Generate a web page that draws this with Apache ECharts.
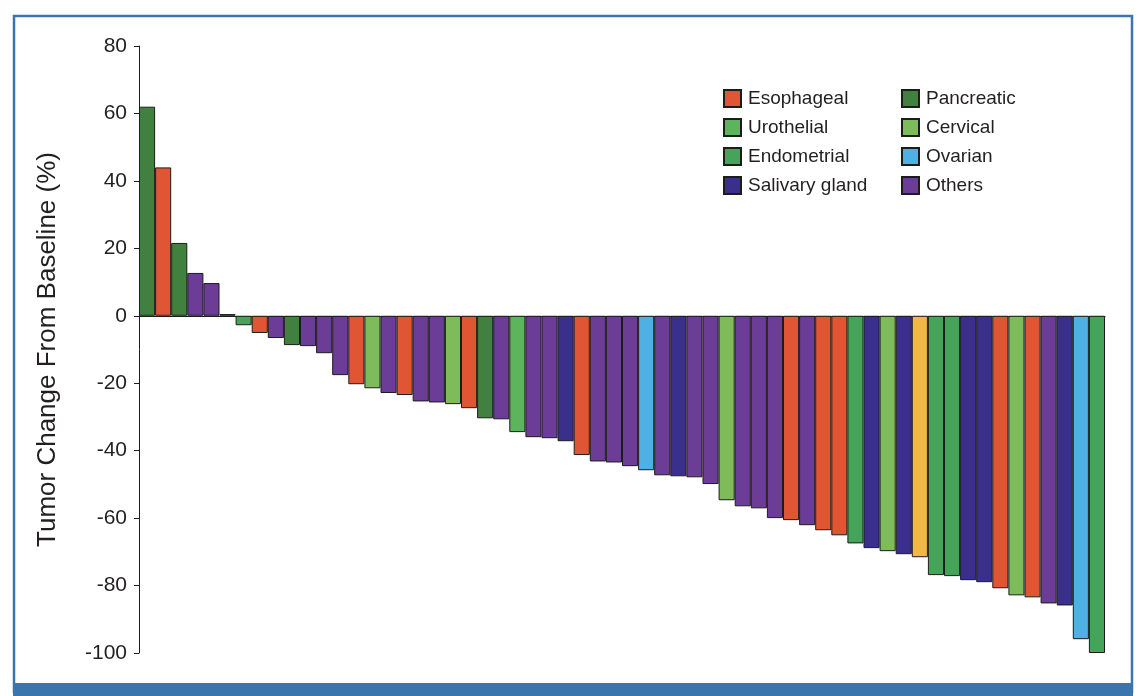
<!DOCTYPE html>
<html>
<head>
  <meta charset="utf-8">
  <title>Tumor change waterfall</title>
  <script src="https://cdn.jsdelivr.net/npm/echarts@6/dist/echarts.min.js"></script>
  <style>
    html, body { margin: 0; padding: 0; background: #fff; }
    #main { width: 1144px; height: 696px; }
  </style>
</head>
<body>
  <div id="main"></div>
  <script>
    // best % change per patient, sorted
    var changes = [62, 44, 21.6, 12.7, 9.7, 0.5, -2.8, -5.1, -6.6, -8.7,
      -9.0, -11.1, -17.6, -20.3, -21.5, -22.9, -23.5, -25.4, -25.7, -26.2,
      -27.4, -30.4, -30.7, -34.5, -36.0, -36.3, -37.2, -41.3, -43.2, -43.5,
      -44.6, -45.8, -47.3, -47.6, -47.9, -49.9, -54.7, -56.5, -57.1, -60.0,
      -60.6, -62.1, -63.6, -65.1, -67.5, -68.9, -69.8, -70.7, -71.6, -76.9,
      -77.2, -78.4, -79.0, -80.8, -82.9, -83.5, -85.3, -85.9, -95.9, -100];
    var tumorTypes = ['Pancreatic', 'Esophageal', 'Pancreatic', 'Others', 'Others', 'Others', 'Endometrial', 'Esophageal', 'Others', 'Pancreatic',
      'Others', 'Others', 'Others', 'Esophageal', 'Cervical', 'Others', 'Esophageal', 'Others', 'Others', 'Cervical',
      'Esophageal', 'Pancreatic', 'Others', 'Urothelial', 'Others', 'Others', 'Salivary gland', 'Esophageal', 'Others', 'Others',
      'Others', 'Ovarian', 'Others', 'Salivary gland', 'Others', 'Others', 'Cervical', 'Others', 'Others', 'Others',
      'Esophageal', 'Others', 'Esophageal', 'Esophageal', 'Endometrial', 'Salivary gland', 'Cervical', 'Salivary gland', 'Unlisted', 'Endometrial',
      'Endometrial', 'Salivary gland', 'Salivary gland', 'Esophageal', 'Cervical', 'Esophageal', 'Others', 'Salivary gland', 'Ovarian', 'Endometrial'];
    var patients = ['1', '2', '3', '4', '5', '6', '7', '8', '9', '10', '11', '12', '13', '14', '15', '16', '17', '18', '19', '20',
      '21', '22', '23', '24', '25', '26', '27', '28', '29', '30', '31', '32', '33', '34', '35', '36', '37', '38', '39', '40',
      '41', '42', '43', '44', '45', '46', '47', '48', '49', '50', '51', '52', '53', '54', '55', '56', '57', '58', '59', '60'];
    var legendLeft = ['Esophageal', 'Urothelial', 'Endometrial', 'Salivary gland'];
    var legendRight = ['Pancreatic', 'Cervical', 'Ovarian', 'Others'];
    var yTicks = { min: -100, max: 80, step: 20 };

    var colors = {
      'Esophageal': '#e05533',
      'Pancreatic': '#42803f',
      'Urothelial': '#5cb55c',
      'Cervical': '#7dbb5b',
      'Endometrial': '#46a35a',
      'Ovarian': '#4fb0e6',
      'Salivary gland': '#3a2f8c',
      'Others': '#6b3d96',
      'Unlisted': '#f2b846'
    };
    var frameBlue = '#3a76ad';
    var font = 'Arial, "Liberation Sans", Helvetica, sans-serif';

    var myChart = echarts.init(document.getElementById('main'));

    var typeOrder = legendLeft.concat(legendRight).concat(['Unlisted']);
    var series = typeOrder.map(function (t) {
      return {
        name: t,
        type: 'bar',
        stack: 'all',
        barCategoryGap: '0%',
        itemStyle: { color: colors[t], borderColor: '#1c1c1c', borderWidth: 1 },
        data: changes.map(function (v, i) { return tumorTypes[i] === t ? v : '-'; })
      };
    });

    var legendCommon = {
      orient: 'vertical',
      top: 89,
      padding: 0,
      itemWidth: 17,
      itemHeight: 17,
      itemGap: 10,
      icon: 'rect',
      selectedMode: false,
      textStyle: { fontFamily: font, fontSize: 19, lineHeight: 17, color: '#231f20', padding: [0, 0, 0, 2] }
    };

    var option = {
      animation: false,
      graphic: [
        { type: 'rect', z: -10, shape: { x: 14, y: 16, width: 1118, height: 676 }, style: { fill: 'none', stroke: frameBlue, lineWidth: 2.5 } },
        { type: 'rect', z: -10, shape: { x: 13, y: 683, width: 1120, height: 13 }, style: { fill: frameBlue } }
      ],
      legend: [
        Object.assign({ left: 723, data: legendLeft }, legendCommon),
        Object.assign({ left: 901, data: legendRight }, legendCommon)
      ],
      grid: { left: 139, right: 39, top: 46, bottom: 43 },
      xAxis: {
        type: 'category',
        data: patients,
        axisLine: { onZero: true, lineStyle: { color: '#1c1c1c', width: 1 } },
        axisTick: { show: false },
        axisLabel: { show: false },
        splitLine: { show: false }
      },
      yAxis: {
        type: 'value',
        min: yTicks.min,
        max: yTicks.max,
        interval: yTicks.step,
        name: 'Tumor Change From Baseline (%)',
        nameLocation: 'middle',
        nameGap: 78,
        nameTextStyle: { fontFamily: font, fontSize: 26, color: '#231f20' },
        axisLine: { show: true, onZero: false, lineStyle: { color: '#1c1c1c', width: 1 } },
        axisTick: { show: true, length: 5, lineStyle: { color: '#1c1c1c' } },
        axisLabel: { margin: 12, fontFamily: font, fontSize: 21, color: '#231f20' },
        splitLine: { show: false }
      },
      series: series
    };
    myChart.setOption(option);
  </script>
</body>
</html>
